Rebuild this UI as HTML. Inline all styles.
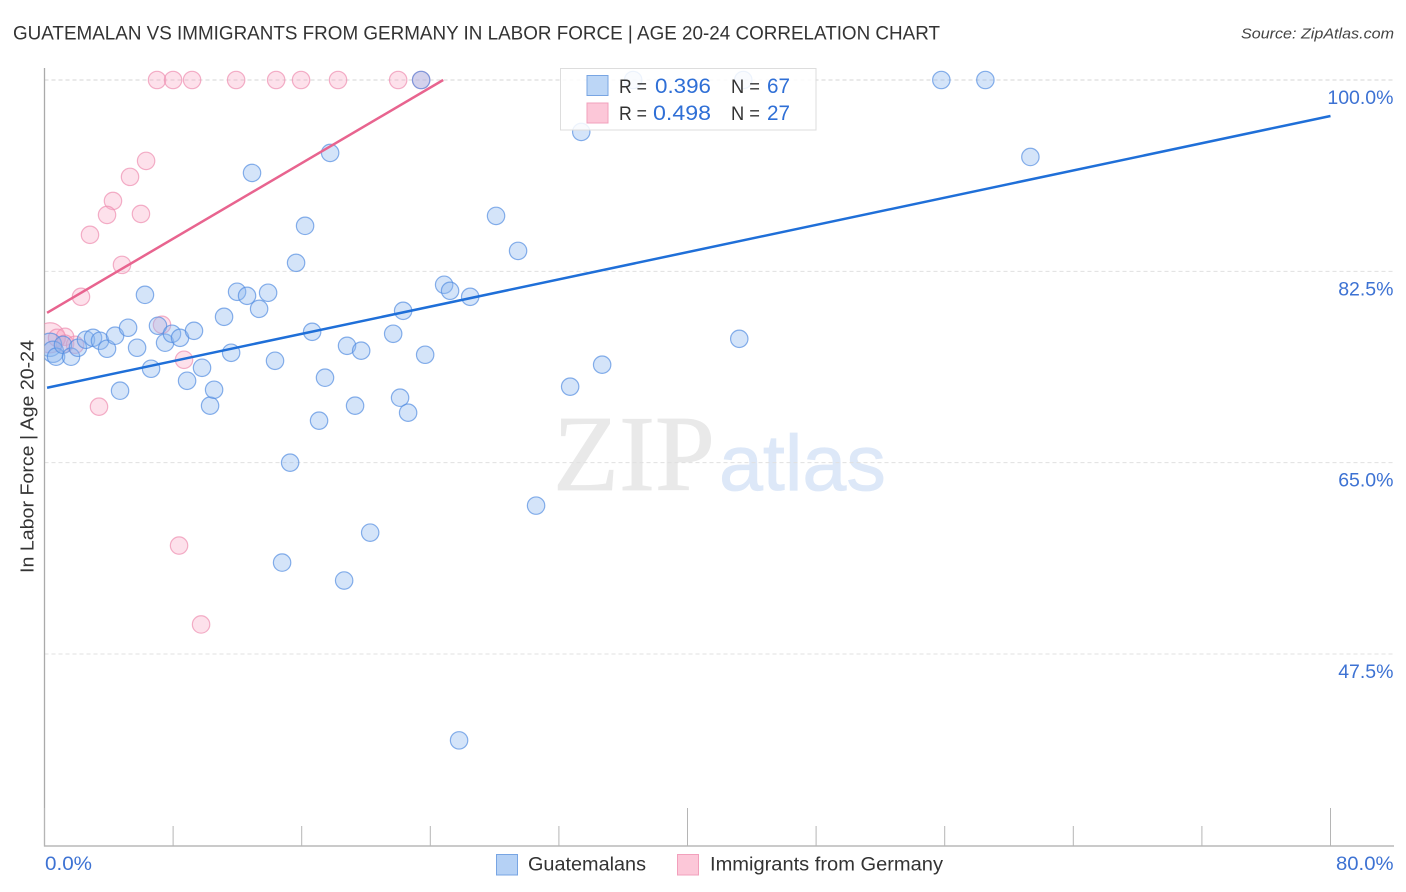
<!DOCTYPE html>
<html lang="en">
<head>
<meta charset="utf-8">
<title>Guatemalan vs Immigrants from Germany in Labor Force | Age 20-24 Correlation Chart</title>
<style>
html,body{margin:0;padding:0;background:#fff;}
svg{display:block;font-family:"Liberation Sans",sans-serif;}
</style>
</head>
<body>
<svg id="chart" xmlns="http://www.w3.org/2000/svg" width="1406" height="892" viewBox="0 0 1406 892">
  <defs>
    <clipPath id="plot-clip"><rect x="44.5" y="60" width="1350" height="786"/></clipPath>
  </defs>
  <rect x="0" y="0" width="1406" height="892" fill="#fff"/>
  <text x="13" y="39.5" font-size="19.5" fill="#333" textLength="927" lengthAdjust="spacingAndGlyphs">GUATEMALAN VS IMMIGRANTS FROM GERMANY IN LABOR FORCE | AGE 20-24 CORRELATION CHART</text>
  <text x="1394" y="38.5" font-size="15" font-style="italic" fill="#444" text-anchor="end" textLength="153" lengthAdjust="spacingAndGlyphs">Source: ZipAtlas.com</text>
  <g>
    <text x="553" y="490" font-family="'Liberation Serif',serif" font-size="108" fill="#e9e9e9" stroke="#e9e9e9" stroke-width="0.8">ZIP</text>
    <text x="719" y="490" font-family="'Liberation Sans',sans-serif" font-size="79" fill="#dde8f8" stroke="#dde8f8" stroke-width="0.8">atlas</text>
  </g>
  <g id="grid"></g>
  <g id="axes"></g>
  <g id="marks" clip-path="url(#plot-clip)"></g>
  <g id="lines"></g>
  <text transform="translate(33.5,456.5) rotate(-90)" font-size="18.5" fill="#333" text-anchor="middle" textLength="233" lengthAdjust="spacingAndGlyphs">In Labor Force | Age 20-24</text>
  <g>
    <rect x="560.5" y="68.5" width="255.5" height="61.5" fill="#fff" fill-opacity="0.85" stroke="#ddd" stroke-width="1"/>
    <rect x="587" y="75.5" width="21" height="20" fill="#b5d1f5" fill-opacity="0.9" stroke="#78a5e3" stroke-width="1"/>
    <rect x="587" y="103" width="21" height="20" fill="#fcc7d8" stroke="#f2a0bc" stroke-width="1"/>
    <text x="619" y="93" font-size="19" fill="#333" textLength="28" lengthAdjust="spacingAndGlyphs">R =</text>
    <text x="655" y="93" font-size="21" fill="#2f6fd6" textLength="56" lengthAdjust="spacingAndGlyphs">0.396</text>
    <text x="731" y="93" font-size="19" fill="#333" textLength="29" lengthAdjust="spacingAndGlyphs">N =</text>
    <text x="767" y="93" font-size="21" fill="#2f6fd6" textLength="23" lengthAdjust="spacingAndGlyphs">67</text>
    <text x="619" y="120" font-size="19" fill="#333" textLength="28" lengthAdjust="spacingAndGlyphs">R =</text>
    <text x="653" y="120" font-size="21" fill="#2f6fd6" textLength="58" lengthAdjust="spacingAndGlyphs">0.498</text>
    <text x="731" y="120" font-size="19" fill="#333" textLength="29" lengthAdjust="spacingAndGlyphs">N =</text>
    <text x="767" y="120" font-size="21" fill="#2f6fd6" textLength="23" lengthAdjust="spacingAndGlyphs">27</text>
  </g>
  <g>
    <rect x="496.5" y="854.5" width="21" height="20.5" fill="#b5d1f5" stroke="#78a5e3" stroke-width="1"/>
    <text x="528" y="870.5" font-size="19" fill="#333" textLength="118" lengthAdjust="spacingAndGlyphs">Guatemalans</text>
    <rect x="677.5" y="854.5" width="21" height="20.5" fill="#fcc7d8" stroke="#f2a0bc" stroke-width="1"/>
    <text x="710" y="870.5" font-size="19" fill="#333" textLength="233" lengthAdjust="spacingAndGlyphs">Immigrants from Germany</text>
  </g>
</svg>
<script>
const xTicks = [0, 8, 16, 24, 32, 40, 48, 56, 64, 72, 80];
const xMajorTicks = [0, 40, 80];
const xLabelValues = ["0.0%", "80.0%"];
const yTicks = [100, 82.5, 65, 47.5];
const yTickLabels = ["100.0%", "82.5%", "65.0%", "47.5%"];

const guatemalanX = [0.34,0.53,0.72,1.15,1.65,2.08,2.58,3.02,3.45,3.89,4.39,5.20,4.70,5.76,6.63,6.25,7.06,7.50,7.93,8.43,9.30,8.87,9.80,10.30,10.55,11.17,11.61,11.98,12.60,13.35,13.91,12.91,14.34,15.65,16.21,16.65,17.08,17.45,17.77,15.28,14.78,18.64,18.82,19.70,19.32,20.26,21.69,22.12,22.31,22.62,23.68,23.43,24.86,25.23,26.48,25.79,28.09,29.46,30.58,32.70,33.39,34.69,36.62,43.22,43.47,55.79,58.53,61.33];
const guatemalanY = [75.78,75.14,74.69,75.78,74.69,75.51,76.24,76.42,76.15,75.42,76.61,77.34,71.58,75.51,73.59,80.35,77.52,75.97,76.79,76.42,77.06,72.49,73.68,70.21,71.67,78.34,75.05,80.63,80.26,79.07,80.54,91.50,74.32,83.28,86.66,76.97,68.84,72.77,93.33,65.00,55.86,54.22,75.69,75.24,70.21,58.60,76.79,70.94,78.89,69.57,74.87,100,81.27,80.72,80.17,39.60,87.57,84.37,61.07,71.95,95.25,73.96,100,76.33,100,100,100,92.96];
const guatemalanWeight = [1.8, 1.5];

const germanyX = [7.00,8.00,9.18,11.92,14.41,15.96,18.26,22.00,23.43,6.32,5.32,4.26,3.89,6.00,2.83,4.82,2.27,7.31,8.68,3.39,8.37,9.74,0.34,0.78,1.28,1.28,1.90];
const germanyY = [100,100,100,100,100,100,100,100,100,92.60,91.14,88.94,87.66,87.75,85.84,83.09,80.17,77.61,74.41,70.12,57.42,50.20,76.42,76.42,76.51,75.88,75.78];
const germanyWeight = [1,1,1,1,1,1,1,1,1,1,1,1,1,1,1,1,1,1,1,1,1,1,3,1,1,1,1];

const guatemalanTrendX = [0.16, 80];
const guatemalanTrendY = [71.85, 96.71];
const germanyTrendX = [0.16, 24.80];
const germanyTrendY = [78.71, 100];

const NS = 'http://www.w3.org/2000/svg';
const xScale = v => 44.5 + v * (1330.5 - 44.5) / 80;
const yScale = v => 80 + (100 - v) * (654 - 80) / 52.5;
const rScale = w => 8.7 * Math.sqrt(w);

function make(tag, attrs, parent) {
  const el = document.createElementNS(NS, tag);
  for (const k in attrs) el.setAttribute(k, attrs[k]);
  parent.appendChild(el);
  return el;
}

const grid = document.getElementById('grid');
const axes = document.getElementById('axes');
const marks = document.getElementById('marks');
const lines = document.getElementById('lines');

yTicks.forEach((t, i) => {
  const gl = make('line', {x1: 44.5, x2: 1394, y1: yScale(t), y2: yScale(t), stroke: i === 0 ? '#d4d4d4' : '#e0e0e0', 'stroke-width': 1, 'stroke-dasharray': '4 3'}, grid);
  
  
  const tx = make('text', {x: 1393.5, y: yScale(t) + 24, 'font-size': 19.5, fill: '#3d72d3', 'text-anchor': 'end'}, axes);
  tx.textContent = yTickLabels[i];
  
  
});

const yAxis = make('line', {x1: 44.5, x2: 44.5, y1: 68, y2: 846.5, stroke: '#aaa', 'stroke-width': 1.3}, axes);


const xAxis = make('line', {x1: 44, x2: 1394, y1: 846, y2: 846, stroke: '#aaa', 'stroke-width': 1.3}, axes);



xTicks.forEach(t => {
  const major = xMajorTicks.includes(t);
  const tick = make('line', {x1: xScale(t), x2: xScale(t), y1: major ? 808 : 826, y2: 846, stroke: '#b5b5b5', 'stroke-width': 1}, axes);
  
  
});

const xLabelLeft = make('text', {x: 45, y: 870, 'font-size': 19.5, fill: '#3d72d3', textLength: 47, lengthAdjust: 'spacingAndGlyphs'}, axes);
xLabelLeft.textContent = xLabelValues[0];


const xLabelRight = make('text', {x: 1336, y: 870, 'font-size': 19.5, fill: '#3d72d3', textLength: 57.5, lengthAdjust: 'spacingAndGlyphs'}, axes);
xLabelRight.textContent = xLabelValues[1];



germanyX.forEach((v, i) => {
  const c = make('circle', {cx: xScale(v), cy: yScale(germanyY[i]), r: rScale(germanyWeight[i] || 1), fill: '#f9a8c4', 'fill-opacity': 0.34, stroke: '#ee8fb0', 'stroke-opacity': 0.7, 'stroke-width': 1.2}, marks);
  
  
});

guatemalanX.forEach((v, i) => {
  const c = make('circle', {cx: xScale(v), cy: yScale(guatemalanY[i]), r: rScale(guatemalanWeight[i] || 1), fill: '#8db8ee', 'fill-opacity': 0.38, stroke: '#4f8be0', 'stroke-opacity': 0.68, 'stroke-width': 1.2}, marks);
  
  
});

const germanyLine = make('line', {x1: xScale(germanyTrendX[0]), y1: yScale(germanyTrendY[0]), x2: xScale(germanyTrendX[1]), y2: yScale(germanyTrendY[1]), stroke: '#e8648f', 'stroke-width': 2.5}, lines);


const guatemalanLine = make('line', {x1: xScale(guatemalanTrendX[0]), y1: yScale(guatemalanTrendY[0]), x2: xScale(guatemalanTrendX[1]), y2: yScale(guatemalanTrendY[1]), stroke: '#1f6fd8', 'stroke-width': 2.5}, lines);


</script>
</body>
</html>
